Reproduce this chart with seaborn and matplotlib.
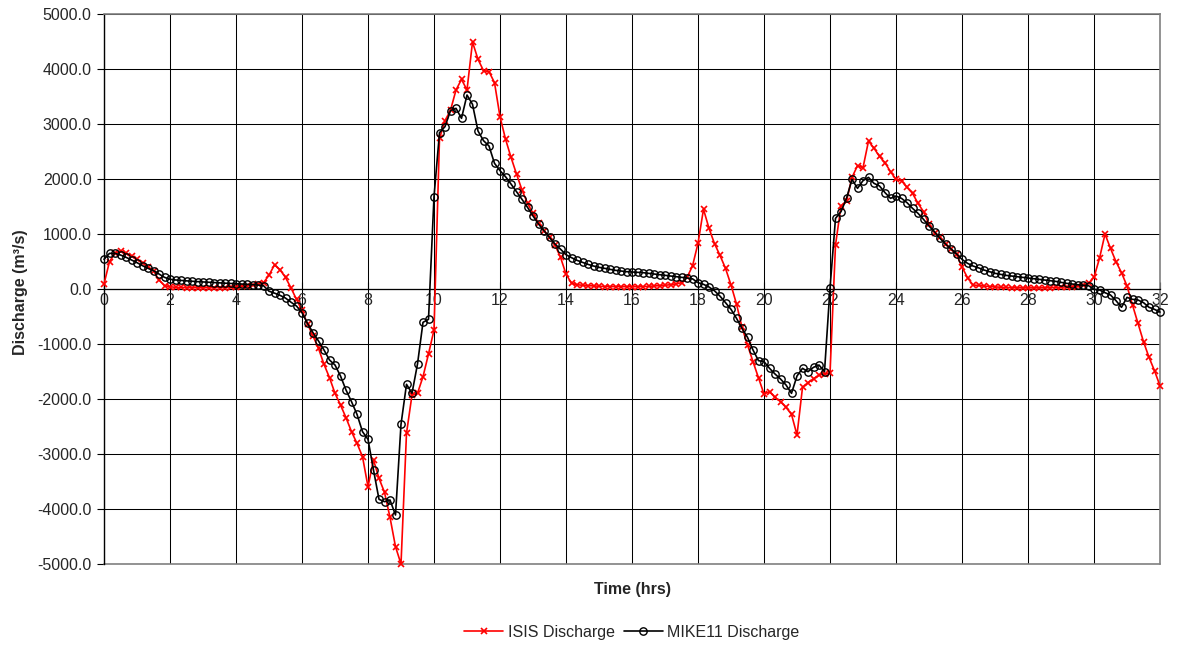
import numpy as np
import pandas as pd
import matplotlib
matplotlib.use("Agg")
import matplotlib.pyplot as plt
import seaborn as sns
from matplotlib.ticker import FuncFormatter

# ---- data (10-minute time steps, 0 .. 32 hrs) ----
STEPS_PER_HOUR = 6
isis_discharge = [
    90, 500, 650, 690, 650, 600,
    540, 480, 405, 333, 164, 60,
    42, 30, 28, 26, 25, 24,
    24, 24, 24, 25, 26, 28,
    40, 50, 60, 70, 85, 115,
    250, 440, 350, 210, 20, -190,
    -390, -636, -855, -1079, -1370, -1612,
    -1897, -2109, -2339, -2594, -2806, -3048,
    -3594, -3109, -3442, -3697, -4152, -4685,
    -5000, -2624, -1927, -1897, -1594, -1182,
    -745, 2739, 3061, 3250, 3618, 3812,
    3618, 4491, 4176, 3970, 3952, 3752,
    3133, 2727, 2394, 2091, 1800, 1558,
    1376, 1194, 1061, 939, 800, 576,
    273, 103, 79, 67, 61, 55,
    48, 45, 44, 43, 42, 42,
    42, 42, 43, 48, 55, 61,
    67, 79, 91, 115, 212, 418,
    830, 1450, 1103, 825, 610, 376,
    73, -273, -697, -1018, -1321, -1612,
    -1909, -1867, -1970, -2048, -2152, -2279,
    -2655, -1790, -1705, -1630, -1570, -1540,
    -1533, 800, 1509, 1595, 2030, 2242,
    2206, 2690, 2560, 2410, 2297, 2133,
    1994, 1970, 1848, 1739, 1558, 1406,
    1182, 1024, 939, 812, 721, 630,
    400, 205, 73, 65, 55, 45,
    38, 32, 28, 25, 22, 20,
    20, 20, 20, 22, 25, 28,
    32, 38, 45, 55, 67, 103,
    212, 558, 1000, 739, 497, 297,
    55, -291, -624, -958, -1242, -1485,
    -1760,
]
mike11_discharge = [
    540, 648, 648, 618, 576, 527,
    479, 424, 376, 333, 273, 212,
    176, 164, 155, 148, 140, 134,
    128, 122, 116, 111, 106, 101,
    95, 90, 85, 80, 72, 60,
    -40, -75, -115, -165, -240, -310,
    -430, -624, -794, -945, -1109, -1291,
    -1382, -1582, -1836, -2048, -2279, -2594,
    -2733, -3291, -3824, -3867, -3836, -4109,
    -2461, -1733, -1897, -1364, -606, -552,
    1679, 2842, 2952, 3242, 3285, 3103,
    3527, 3358, 2873, 2697, 2600, 2285,
    2152, 2042, 1909, 1770, 1630, 1485,
    1327, 1182, 1061, 939, 818, 724,
    624, 570, 521, 485, 448, 418,
    394, 376, 358, 339, 327, 315,
    309, 303, 297, 285, 273, 261,
    248, 236, 224, 212, 200, 185,
    115, 85, 36, -33, -130, -248,
    -370, -533, -715, -879, -1109, -1303,
    -1321, -1442, -1545, -1636, -1745, -1897,
    -1582, -1442, -1503, -1424, -1382, -1503,
    12, 1285, 1406, 1648, 1994, 1830,
    1970, 2030, 1921, 1873, 1752, 1648,
    1691, 1648, 1570, 1467, 1376, 1267,
    1145, 1042, 921, 818, 730, 640,
    539, 467, 418, 385, 345, 315,
    285, 267, 248, 236, 224, 212,
    200, 188, 176, 164, 152, 139,
    121, 103, 91, 79, 67, 61,
    -6, -18, -67, -109, -212, -333,
    -152, -188, -200, -248, -333, -370,
    -420,
]
time_hrs = np.arange(len(isis_discharge)) / STEPS_PER_HOUR
x_ticks = list(range(0, 33, 2))
y_ticks = list(range(-5000, 5001, 1000))
series_names = ["ISIS Discharge", "MIKE11 Discharge"]

df = pd.DataFrame({
    "time": np.concatenate([time_hrs, time_hrs]),
    "q": isis_discharge + mike11_discharge,
    "series": [series_names[0]] * len(isis_discharge) + [series_names[1]] * len(mike11_discharge),
})

sns.set_theme(style="white")
plt.rcParams["font.family"] = ["Liberation Sans", "DejaVu Sans"]
FS = 11.5

fig = plt.figure(figsize=(11.78, 6.48), dpi=100)
ax = fig.add_axes([104 / 1178, 1 - 564 / 648, 1056 / 1178, 550 / 648])

sns.lineplot(data=df[df.series == series_names[0]], x="time", y="q", ax=ax,
             color="#ff0000", lw=1.2, marker="x", markersize=5, mew=1.2,
             mec="#ff0000", estimator=None, sort=False, label=series_names[0],
             clip_on=False, zorder=3)
sns.lineplot(data=df[df.series == series_names[1]], x="time", y="q", ax=ax,
             color="black", lw=1.2, marker="o", markersize=5.3, mew=1.0,
             mfc="none", mec="black", estimator=None, sort=False,
             label=series_names[1], clip_on=False, zorder=4)

ax.set_xlim(0, 32)
ax.set_ylim(-5000, 5000)
ax.set_xticks(x_ticks)
ax.set_xticklabels([str(t) for t in x_ticks])
ax.set_yticks(y_ticks)
ax.yaxis.set_major_formatter(FuncFormatter(lambda v, p: f"{v:.1f}"))

ax.grid(True, color="black", lw=0.75)
ax.set_axisbelow(True)
for s in ["top", "right"]:
    ax.spines[s].set_visible(True)
    ax.spines[s].set_color("#808080")
    ax.spines[s].set_linewidth(1.2)
ax.axhline(-5000, color="#808080", lw=1.2, clip_on=False, zorder=2.5)
ax.spines["bottom"].set_position(("data", 0))
ax.spines["bottom"].set_color("black")
ax.spines["bottom"].set_linewidth(0.9)
ax.spines["left"].set_color("black")
ax.spines["left"].set_linewidth(1.0)

ax.tick_params(axis="x", direction="in", length=5, width=0.8, color="black",
               labelsize=FS, pad=3, bottom=True)
ax.tick_params(axis="y", direction="out", length=5, width=0.8, color="black",
               labelsize=FS, pad=4, left=True)

ax.set_xlabel("")
ax.set_ylabel("")
ax.text(0.5, -0.047, "Time (hrs)", transform=ax.transAxes, ha="center",
        va="center", fontsize=FS, fontweight="bold")
ax.text(-0.0795, 0.495, "Discharge (m³/s)", transform=ax.transAxes, ha="center",
        va="center", rotation=90, fontsize=FS, fontweight="bold")

leg = ax.legend(loc="center", bbox_to_anchor=(0.5, -0.124), ncol=2, frameon=False,
                fontsize=FS, handlelength=2.4, columnspacing=0.6, handletextpad=0.3)

fig.savefig("out.png", dpi=100, facecolor="white")
